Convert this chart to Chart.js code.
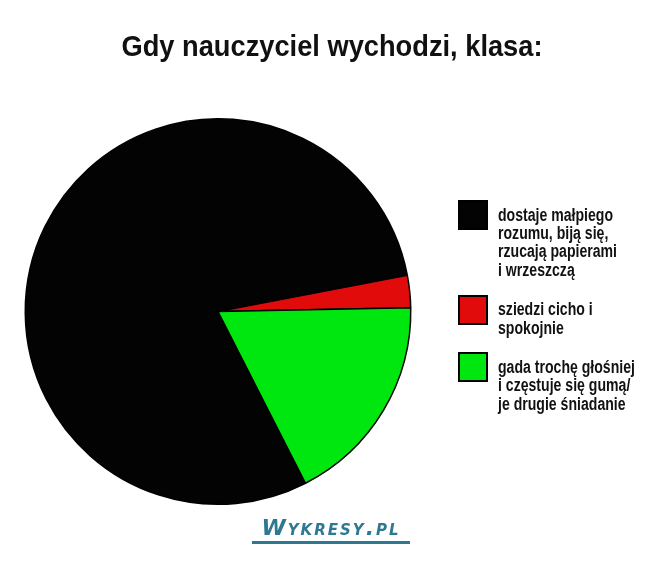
<!DOCTYPE html>
<html>
<head>
<meta charset="utf-8">
<script src="https://cdn.jsdelivr.net/npm/chart.js@4.4.1/dist/chart.umd.min.js"></script>
<style>
    body { margin: 0; background: #fff; }
    #wrap { position: relative; width: 664px; height: 566px; }
    #title { position: absolute; left: 0; top: 31px; width: 664px; height: 30px; font-family: "Liberation Sans", Arial, sans-serif; font-weight: bold; font-size: 30px; line-height: 30px; color: #111; white-space: nowrap; }
    #title span { position: absolute; left: 332px; transform-origin: 0 0; }
    #legend { position: absolute; left: 458px; top: 200px; font-family: "Liberation Sans", Arial, sans-serif; font-weight: bold; font-size: 18px; line-height: 18.4px; color: #111; }
    .item { position: relative; margin-bottom: 21px; }
    .box { position: absolute; left: 0; top: 0; width: 26px; height: 26px; border: 2px solid #000; }
    .text { position: relative; left: 40px; top: 5.5px; white-space: nowrap; transform-origin: 0 0; }
    #logo { position: absolute; left: 252px; top: 514px; width: 158px; text-align: center; font-family: "DejaVu Sans", sans-serif; font-style: italic; font-weight: bold; font-variant: small-caps; font-size: 22px; letter-spacing: 2px; color: #2f7891; border-bottom: 3px solid #2f7891; line-height: 27px; }
</style>
</head>
<body>
<div id="wrap">
    <canvas id="pie" width="664" height="566"></canvas>
    <div id="title"><span></span></div>
    <div id="legend"></div>
    <div id="logo">Wykresy.pl</div>
</div>
<script>
let title = "Gdy nauczyciel wychodzi, klasa:";
let labels = [
    ["dostaje małpiego", "rozumu, biją się,", "rzucają papierami", "i wrzeszczą"],
    ["sziedzi cicho i", "spokojnie"],
    ["gada trochę głośniej", "i częstuje się gumą/", "je drugie śniadanie"]
];
let values = [79.5, 2.7, 17.8];
let colors = ['#030303', '#e10b0b', '#00e60f'];

let ctx = document.getElementById('pie').getContext('2d');

let myChart = new Chart(ctx, {
    type: 'pie',
    data: {
        labels: labels,
        datasets: [{
            data: values,
            backgroundColor: colors,
            borderColor: '#000',
            borderWidth: 1.5,
        }]
    },
    options: {
        responsive: false,
        animation: false,
        rotation: 153,
        layout: {
            padding: { left: 24, right: 252, top: 118, bottom: 61 }
        },
        plugins: {
            legend: { display: false },
            tooltip: { enabled: false },
        },
    },
});

// condensed look: squeeze text horizontally to the widths seen in the picture
function squeeze(el, text, font, targetWidth) {
    ctx.font = font;
    let w = ctx.measureText(text).width;
    return targetWidth / w;
}

let titleSpan = document.querySelector('#title span');
titleSpan.textContent = title;
let ts = squeeze(titleSpan, title, 'bold 30px "Liberation Sans"', 421);
titleSpan.style.transform = 'scaleX(' + ts + ') translateX(-50%)';

// legend built from the chart labels
let legend = document.getElementById('legend');
let ls = squeeze(null, 'rzucają papierami', 'bold 18px "Liberation Sans"', 119);
labels.forEach((lines, i) => {
    let item = document.createElement('div');
    item.className = 'item';
    let box = document.createElement('span');
    box.className = 'box';
    box.style.background = colors[i];
    item.appendChild(box);
    let text = document.createElement('div');
    text.className = 'text';
    text.innerHTML = lines.join('<br>');
    text.style.transform = 'scaleX(' + ls + ')';
    item.appendChild(text);
    legend.appendChild(item);
});
</script>
</body>
</html>
